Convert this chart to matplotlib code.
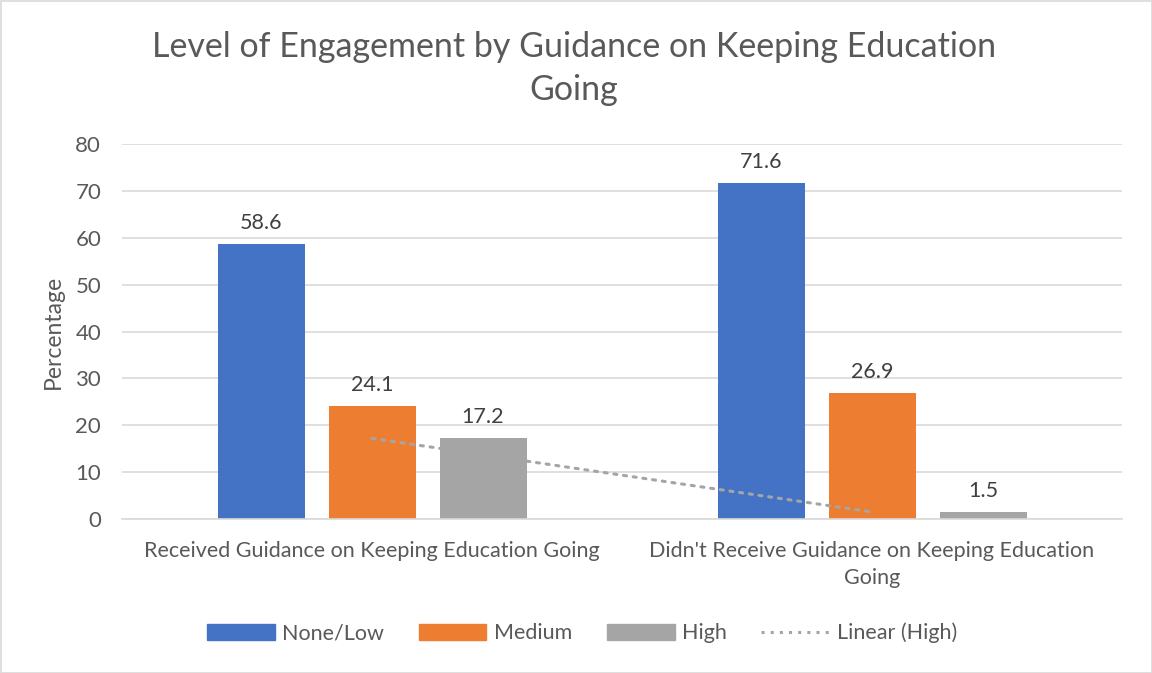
import matplotlib
matplotlib.use("Agg")
import matplotlib.pyplot as plt
from matplotlib.patches import Rectangle
from matplotlib.lines import Line2D
import numpy as np

categories = ["Received Guidance on Keeping Education Going",
              "Didn't Receive Guidance on Keeping Education\nGoing"]
series_names = ["None/Low", "Medium", "High"]
none_low = [58.6, 71.6]
medium = [24.1, 26.9]
high = [17.2, 1.5]
colors = ["#4472C4", "#ED7D31", "#A5A5A5"]
yticks = [0, 10, 20, 30, 40, 50, 60, 70, 80]

plt.rcParams['font.family'] = ['Lato', 'DejaVu Sans']
txt = "#595959"

fig = plt.figure(figsize=(11.52, 6.73), dpi=100)
ax = fig.add_axes([122/1152, 1-519/673, 1000/1152, 375/673])

x = np.arange(len(categories))
width = 0.174
offsets = [-0.222, 0.0, 0.222]
for vals, off, c, name in zip([none_low, medium, high], offsets, colors, series_names):
    bars = ax.bar(x + off, vals, width, color=c, label=name, zorder=2)
    for b, v in zip(bars, vals):
        ax.annotate(f"{v}", (b.get_x() + b.get_width()/2, v), xytext=(0, 8),
                    textcoords="offset points", ha="center", va="bottom",
                    fontsize=15.5, color="#404040")

# Linear trendline for High
coef = np.polyfit(x, high, 1)
trend = np.polyval(coef, x)
ax.plot(x, trend, linestyle=(0, (1, 2.2)), color="#A5A5A5", linewidth=2.2, zorder=3,
        dash_capstyle="round")

ax.set_xlim(-0.5, 1.5)
ax.set_ylim(0, 80)
ax.set_yticks(yticks)
ax.set_xticks(x)
ax.set_xticklabels(categories, fontsize=15.5, color=txt, linespacing=1.45)
ax.tick_params(axis='y', labelsize=16, labelcolor=txt, length=0, pad=15)
ax.tick_params(axis='x', length=0, pad=16)
ax.grid(axis='y', color="#D9D9D9", linewidth=1.2, zorder=0)
ax.set_axisbelow(True)
for s in ["top", "right", "left"]:
    ax.spines[s].set_visible(False)
ax.spines["bottom"].set_color("#D9D9D9")
ax.spines["bottom"].set_linewidth(1.2)

ax.set_ylabel("Percentage", fontsize=16.5, color=txt, labelpad=8)

fig.text(574/1152, 1-68.5/673, "Level of Engagement by Guidance on Keeping Education\nGoing",
         ha="center", va="center", fontsize=24.5, color=txt, linespacing=1.45)

handles = [Rectangle((0, 0), 1, 1, color=c) for c in colors]
handles.append(Line2D([0], [0], linestyle=(0, (1, 2)), color="#A5A5A5", linewidth=2.2))
labels = series_names + ["Linear (High)"]
leg = fig.legend(handles, labels, loc="center", bbox_to_anchor=(582/1152, 1-633/673),
                 ncol=4, frameon=False, fontsize=15.5, handlelength=3.15, handleheight=0.75,
                 columnspacing=1.6, handletextpad=0.35)
for t in leg.get_texts():
    t.set_color(txt)

fig.patches.append(Rectangle((0.5/1152, 0.5/673), 1-1/1152, 1-1/673, transform=fig.transFigure,
                             fill=False, edgecolor="#D9D9D9", linewidth=1.2))

fig.savefig("out.png", dpi=100, facecolor="white")
